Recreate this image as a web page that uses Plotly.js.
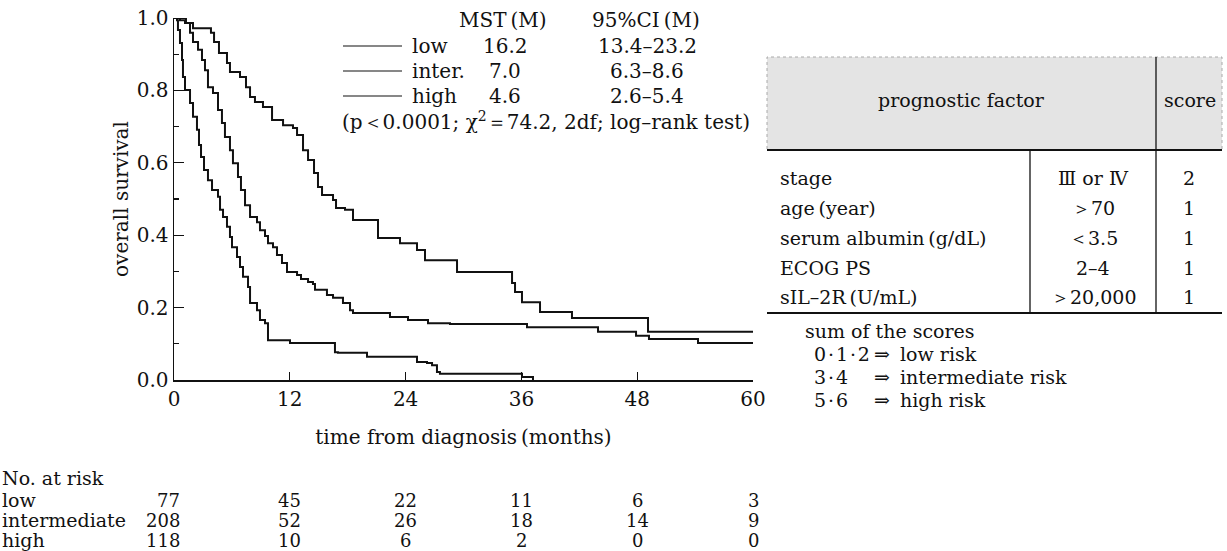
<!DOCTYPE html>
<html>
<head>
<meta charset="utf-8">
<script src="https://cdn.plot.ly/plotly-3.0.1.min.js"></script>
<style>html,body{margin:0;padding:0;background:#fff;}#chart{width:1227px;height:551px;}</style>
</head>
<body>
<div id="chart"></div>
<script>
// ---------- DATA ----------
const lowTime = [0,1.24,1.97,3.83,4.15,4.66,5.49,5.80,6.84,7.46,7.88,8.39,9.22,10.16,11.30,12.33,12.75,13.37,13.89,14.51,14.92,15.34,16.48,16.79,17.72,18.55,21.14,23.42,25.18,26.01,29.33,35.03,35.34,36.06,37.93,41.24,49.12,60];
const lowSurv = [1.0,0.986,0.972,0.959,0.934,0.903,0.876,0.851,0.837,0.809,0.782,0.768,0.754,0.718,0.704,0.696,0.677,0.635,0.608,0.572,0.533,0.511,0.497,0.475,0.470,0.442,0.392,0.378,0.359,0.331,0.298,0.268,0.243,0.215,0.188,0.171,0.133,0.133];

const interTime = [0,0.62,1.14,1.66,1.97,2.49,2.90,3.21,3.52,4.04,4.56,4.97,5.28,5.80,6.11,6.63,6.94,7.36,7.88,8.60,8.91,9.43,9.74,10.26,10.67,11.19,11.71,12.75,13.16,13.89,14.40,14.61,15.85,16.48,17.51,18.24,18.55,22.38,24.25,26.32,28.60,36.58,43.94,47.88,49.22,54.30,60];
const interSurv = [1.0,0.994,0.986,0.959,0.934,0.912,0.884,0.856,0.809,0.793,0.746,0.710,0.671,0.635,0.599,0.561,0.525,0.483,0.450,0.436,0.414,0.398,0.378,0.367,0.345,0.323,0.298,0.290,0.279,0.271,0.265,0.249,0.235,0.227,0.213,0.193,0.185,0.174,0.166,0.157,0.155,0.146,0.133,0.122,0.113,0.102,0.102];

const highTime = [0,0.31,0.41,0.62,0.83,0.93,1.14,1.66,1.97,2.38,2.59,2.80,3.11,3.52,3.94,4.56,4.77,5.08,5.49,5.80,6.01,6.53,6.84,7.15,7.67,7.88,8.60,8.91,9.43,9.74,12.02,16.68,16.99,20.0,25.18,26.22,26.74,27.25,27.56,36.06,37.2];
const highSurv = [1.0,0.994,0.967,0.931,0.884,0.837,0.801,0.765,0.727,0.691,0.649,0.616,0.580,0.552,0.525,0.506,0.470,0.450,0.423,0.395,0.367,0.340,0.312,0.285,0.257,0.213,0.193,0.166,0.157,0.110,0.102,0.077,0.075,0.064,0.050,0.047,0.041,0.022,0.017,0.008,0.0];

const xTicks = [0,12,24,36,48,60];
const yTicks = [0,0.2,0.4,0.6,0.8,1.0];
const yTickText = ['0.0','0.2','0.4','0.6','0.8','1.0'];

const groupNames = ['low','inter.','high'];
const mstValues = ['16.2','7.0','4.6'];
const ciValues = ['13.4–23.2','6.3–8.6','2.6–5.4'];
const statText = '(p＜0.0001; χ<sup>2</sup>＝74.2, 2df; log–rank test)';

const riskGroups = ['low','intermediate','high'];
const riskLow = [77,45,22,11,6,3];
const riskInter = [208,52,26,18,14,9];
const riskHigh = [118,10,6,2,0,0];

const factorNames = ['stage','age\u2009(year)','serum albumin\u2009(g/dL)','ECOG PS','sIL–2R\u2009(U/mL)'];
const factorCriteria = ['Ⅲ or Ⅳ','＞70','＜3.5','2–4','＞20,000'];
const factorScores = ['2','1','1','1','1'];

const sumScores = ['0\u200a·\u200a1\u200a·\u200a2','3\u200a·\u200a4','5\u200a·\u200a6'];
const sumRisks = ['low risk','intermediate risk','high risk'];

// ---------- LAYOUT HELPERS ----------
const W = 1227, H = 551;
const px = v => v / W;
const py = v => 1 - v / H;
const FONT = 'DejaVu Serif, Liberation Serif, serif';
const fs = 20;   // plot text
const ts = 19;   // table text
const rs = 18;   // number-at-risk numbers

const ann = [];
function txt(x, y, text, anchor, size) {
  ann.push({xref:'paper', yref:'paper', x:px(x), y:py(y), text:text,
    showarrow:false, xanchor:anchor||'center', yanchor:'middle',
    font:{family:FONT, size:size||fs, color:'#111'}});
}

// legend block
txt(503, 20, 'MST\u2009(M)');
txt(646, 20, '95%CI\u2009(M)');
const legY = [46, 71, 96];
const shapes = [];
groupNames.forEach((g,i) => {
  shapes.push({type:'line', xref:'paper', yref:'paper', x0:px(343), x1:px(402), y0:py(legY[i]), y1:py(legY[i]), line:{color:'#111', width:1.2}});
  txt(410, legY[i], g, 'left');
  txt(505, legY[i], mstValues[i]);
  txt(647, legY[i], ciValues[i]);
});
txt(546, 121, statText);

// number at risk
txt(0, 478, 'No. at risk', 'left', 19);
const riskRows = [riskLow, riskInter, riskHigh];
const riskY = [500, 520, 540];
riskGroups.forEach((g,i) => {
  txt(0, riskY[i], g, 'left', 19);
  riskRows[i].forEach((v,j) => {
    ann.push({xref:'x', yref:'paper', x:xTicks[j], y:py(riskY[i]), text:String(v), showarrow:false,
      xanchor: j===0 ? 'right' : 'center', xshift: j===0 ? 8 : 0, yanchor:'middle',
      font:{family:FONT, size:rs, color:'#111'}});
  });
});

// right table
const tL = 767, tR = 1222, tTop = 57, tHead = 150, tBot = 313, cDiv = 1030, sDiv = 1156;
shapes.push({type:'rect', xref:'paper', yref:'paper', x0:px(tL), x1:px(tR), y0:py(tHead), y1:py(tTop), fillcolor:'#e4e4e4', line:{width:1, color:'#aaa', dash:'dot'}, layer:'below'});
shapes.push({type:'line', xref:'paper', yref:'paper', x0:px(tL), x1:px(tR), y0:py(tHead), y1:py(tHead), line:{color:'#111', width:2}});
shapes.push({type:'line', xref:'paper', yref:'paper', x0:px(tL), x1:px(tR), y0:py(tBot), y1:py(tBot), line:{color:'#111', width:2}});
shapes.push({type:'line', xref:'paper', yref:'paper', x0:px(cDiv), x1:px(cDiv), y0:py(tHead), y1:py(tBot), line:{color:'#111', width:1.3}});
shapes.push({type:'line', xref:'paper', yref:'paper', x0:px(sDiv), x1:px(sDiv), y0:py(tTop), y1:py(tBot), line:{color:'#111', width:1.3}});
txt((tL+sDiv)/2, 100, 'prognostic factor', 'center', ts);
txt((sDiv+tR)/2 + 1, 100, 'score', 'center', ts);
const rowY = [178, 208, 238, 268, 297];
factorNames.forEach((f,i) => {
  txt(778, rowY[i], f, 'left', ts);
  txt((cDiv+sDiv)/2, rowY[i], factorCriteria[i], 'center', ts);
  txt((sDiv+tR)/2, rowY[i], factorScores[i], 'center', ts);
});
txt(803, 331, 'sum of the scores', 'left', ts);
const sumY = [354, 377, 400];
sumScores.forEach((s,i) => {
  txt(812, sumY[i], s, 'left', ts);
  txt(872, sumY[i], '⇒', 'left', ts);
  txt(898, sumY[i], sumRisks[i], 'left', ts);
});

// ---------- TRACES ----------
function km(t, s, name) {
  return {type:'scatter', mode:'lines', x:t, y:s, name:name, line:{shape:'hv', color:'#111', width:2}, showlegend:false, hoverinfo:'x+y'};
}
const data = [km(lowTime, lowSurv, 'low'), km(interTime, interSurv, 'intermediate'), km(highTime, highSurv, 'high')];

const layout = {
  width: W, height: H,
  margin: {l:0, r:0, t:0, b:0},
  paper_bgcolor:'#fff', plot_bgcolor:'#fff',
  showlegend:false,
  font:{family:FONT, size:fs, color:'#111'},
  xaxis: {
    domain:[px(174), px(753)], range:[0,60], tickvals:xTicks, ticktext:xTicks.map(String),
    ticks:'inside', ticklen:8, tickwidth:1.3, tickcolor:'#111',
    showline:true, linecolor:'#111', linewidth:1.5, showgrid:false, zeroline:false,
    tickfont:{family:FONT, size:fs, color:'#111'},
    title:{text:'time from diagnosis\u2009(months)', standoff:20, font:{family:FONT, size:fs, color:'#111'}},
    fixedrange:true, anchor:'y'
  },
  yaxis: {
    domain:[1-380/H, 1-18/H], range:[0,1], tickvals:yTicks, ticktext:yTickText,
    ticks:'inside', ticklen:10, tickwidth:1.3, tickcolor:'#111',
    minor:{tickvals:[0.1,0.3,0.5,0.7,0.9], ticks:'inside', ticklen:5, tickcolor:'#111', tickwidth:1.1},
    showline:true, linecolor:'#111', linewidth:1.5, showgrid:false, zeroline:false,
    tickfont:{family:FONT, size:fs, color:'#111'},
    title:{text:'overall survival', standoff:2, font:{family:FONT, size:fs, color:'#111'}},
    fixedrange:true, anchor:'x'
  },
  annotations: ann,
  shapes: shapes
};
Plotly.newPlot('chart', data, layout, {displayModeBar:false, staticPlot:true});
</script>
</body>
</html>
